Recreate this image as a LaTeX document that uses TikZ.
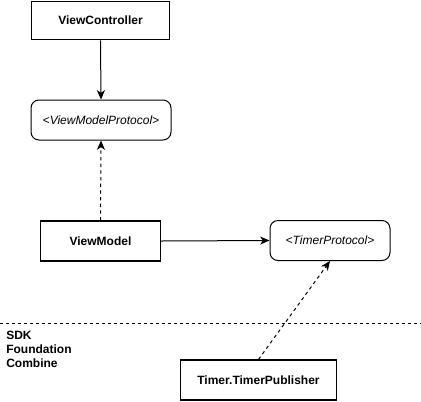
\documentclass[tikz,border=0pt]{standalone}
\usepackage{fontspec}
\setmainfont{Liberation Sans}
\usetikzlibrary{arrows.meta}
\begin{document}
\begin{tikzpicture}[x=0.75pt,y=-0.75pt,
  box/.style={draw=black,line width=0.9pt,fill=white,inner sep=0pt,font=\fontsize{9}{11}\selectfont\bfseries},
  proto/.style={draw=black,line width=0.75pt,fill=white,rounded corners=6pt,inner sep=0pt,font=\fontsize{9}{11}\selectfont\itshape},
  conn/.style={line width=0.75pt,-{Stealth[length=7pt,width=6pt,inset=2pt]}},
  dconn/.style={conn,dash pattern=on 2.5pt off 2.5pt}]
\useasboundingbox (0,0) rectangle (421,401);
\node[box,minimum width=104pt,minimum height=29pt] (vc) at (100.5,20.5) {ViewController};
\node[proto,minimum width=105pt,minimum height=30pt] (vmp) at (101,120) {<ViewModelProtocol>};
\node[box,minimum width=90pt,minimum height=30pt] (vm) at (100.5,241) {ViewModel};
\node[proto,minimum width=90pt,minimum height=30pt] (tp) at (330,240.5) {<TimerProtocol>};
\node[box,minimum width=117pt,minimum height=30pt] (pub) at (258.5,380) {Timer.TimerPublisher};
\coordinate (l0) at (0,323);
\coordinate (l1) at (421,323);
\draw[line width=0.75pt,dash pattern=on 2.25pt off 2.25pt] (l0) -- (l1);
\node[anchor=north west,align=left,inner sep=0pt,font=\fontsize{9}{10.5}\selectfont\bfseries] (sdk) at (6,331) {SDK\\Foundation\\Combine};
\draw[conn] (vc.south) -- (vmp.north);
\draw[dconn] (vm.north) -- (vmp.south);
\draw[conn] (vm.east) -- (tp.west);
\draw[dconn] (pub.north) -- (tp.south);
\end{tikzpicture}
\end{document}
